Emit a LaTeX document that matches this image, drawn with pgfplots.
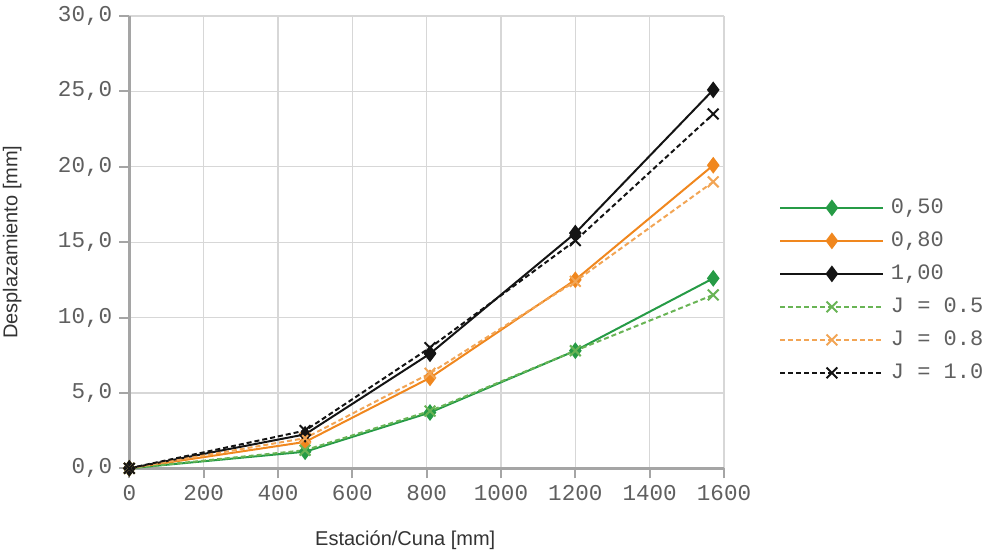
\documentclass[border=0pt]{standalone}
\usepackage{fontspec}
\setmainfont{Liberation Sans}
\newfontfamily\monofont{Liberation Mono}
\usepackage{pgfplots}
\pgfplotsset{compat=1.18}
\definecolor{cgreen}{RGB}{38,155,70}
\definecolor{corange}{RGB}{240,135,30}
\definecolor{cgreenl}{RGB}{105,180,85}
\definecolor{corangel}{RGB}{242,165,85}
\definecolor{cblack}{RGB}{20,20,20}
\definecolor{axgray}{RGB}{165,165,165}
\definecolor{gridgray}{RGB}{215,215,215}
\definecolor{txtgray}{RGB}{95,95,95}
\begin{document}
\begin{tikzpicture}
\useasboundingbox (-64.65pt,-43.35pt) rectangle (429.35pt,234.15pt);
\begin{axis}[
  at={(0,0)}, anchor=south west,
  scale only axis, width=297.35pt, height=226.15pt,
  xmin=0, xmax=1600, ymin=0, ymax=30,
  xtick={0,200,...,1600}, ytick={0,5,...,30},
  grid=major, major grid style={draw=gridgray, line width=0.6pt},
  axis lines*=left,
  axis line style={draw=axgray, line width=1.4pt},
  tick style={draw=axgray, line width=1pt},
  tick align=outside, major tick length=5pt,
  /pgf/number format/assume math mode=true,
  ticklabel style={font=\monofont\fontsize{11.3}{13}\selectfont, text=txtgray},
  xticklabel style={/pgf/number format/1000 sep={}},
  yticklabel style={/pgf/number format/.cd, fixed, fixed zerofill, precision=1, use comma, 1000 sep={}},
  xlabel={Estación/Cuna [mm]},
  ylabel={Desplazamiento [mm]},
  label style={font=\fontsize{10}{12}\selectfont, text=black!80},
  xlabel style={at={(axis description cs:0.464,-0.159)}, anchor=center},
  ylabel style={at={(axis description cs:-0.197,0.5)}, anchor=center, rotate=0},
  legend style={draw=none, fill=none, at={(1,0.4)}, anchor=west, xshift=27.5pt, yshift=-1.5pt,
    inner sep=0pt, font=\monofont\fontsize{11}{13}\selectfont, text=txtgray,
    nodes={text height=8pt, text depth=2pt, inner sep=3.25pt}},
  legend cell align=left,
  legend image code/.code={\draw[mark repeat=2,mark phase=2,#1] plot coordinates {(0pt,0pt) (25.75pt,0pt) (51.5pt,0pt)};},
  every axis plot/.append style={line width=1pt},
]
\addplot[cgreen, mark=diamond*, mark size=3.4pt] coordinates {(0,0) (473,1.1) (809,3.7) (1200,7.8) (1571,12.6)};
\addlegendentry{0,50}
\addplot[corange, mark=diamond*, mark size=3.4pt] coordinates {(0,0) (473,1.75) (809,6.0) (1200,12.5) (1571,20.1)};
\addlegendentry{0,80}
\addplot[cblack, mark=diamond*, mark size=3.4pt] coordinates {(0,0) (473,2.25) (809,7.6) (1200,15.6) (1571,25.1)};
\addlegendentry{1,00}
\addplot[cgreenl, dash pattern=on 2.5pt off 1.5pt, mark=x, mark size=3.8pt, mark options={solid}] coordinates {(0,0) (473,1.2) (809,3.8) (1200,7.8) (1571,11.5)};
\addlegendentry{J = 0.5}
\addplot[corangel, dash pattern=on 2.5pt off 1.5pt, mark=x, mark size=3.8pt, mark options={solid}] coordinates {(0,0) (473,2.0) (809,6.3) (1200,12.4) (1571,19.0)};
\addlegendentry{J = 0.8}
\addplot[cblack, dash pattern=on 2.5pt off 1.5pt, mark=x, mark size=3.8pt, mark options={solid}] coordinates {(0,0) (473,2.5) (809,8.0) (1200,15.1) (1571,23.5)};
\addlegendentry{J = 1.0}
\end{axis}
\end{tikzpicture}
\end{document}
